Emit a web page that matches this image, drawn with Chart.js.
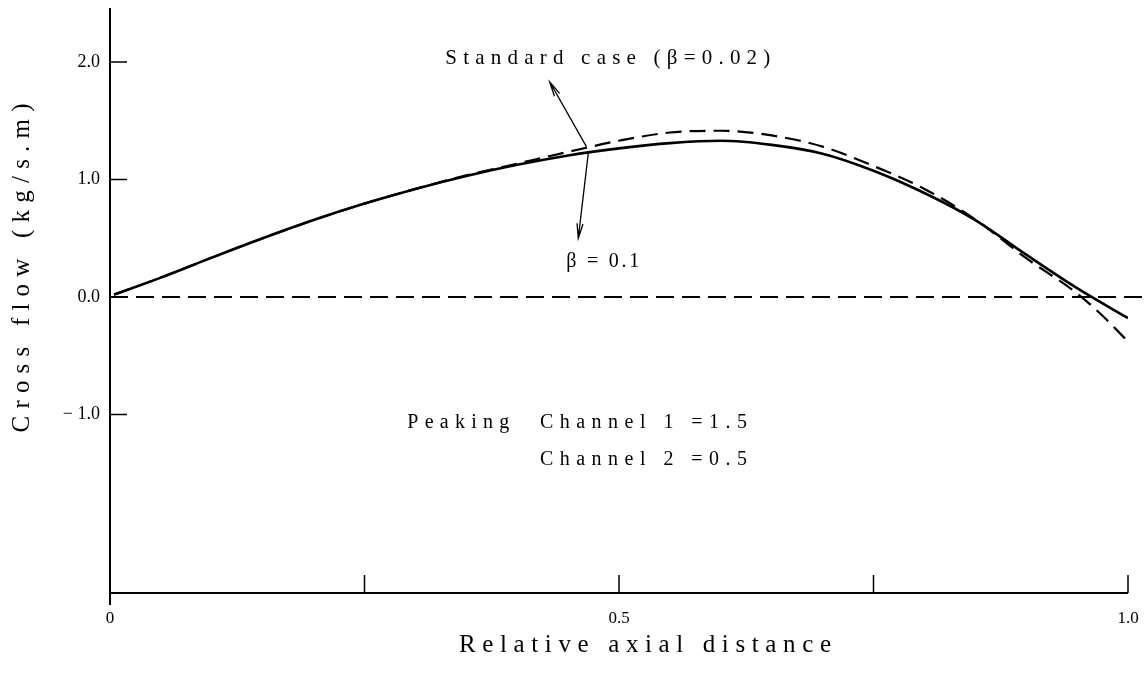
<!DOCTYPE html>
<html>
<head>
<meta charset="utf-8">
<script src="https://cdn.jsdelivr.net/npm/chart.js@4.4.1/dist/chart.umd.min.js"></script>
<style>
  html, body { margin: 0; padding: 0; background: #fff; }
  #wrap { width: 1146px; height: 679px; }
</style>
</head>
<body>
<div id="wrap"><canvas id="c" width="1146" height="679"></canvas></div>
<script>
// Cross flow along the channel, beta = 0.1 (solid)
const axialBeta01 = [0.004, 0.05, 0.10, 0.15, 0.20, 0.25, 0.30, 0.35, 0.40, 0.45, 0.50, 0.55, 0.60, 0.65, 0.70, 0.75, 0.80, 0.85, 0.90, 0.95, 1.0];
const flowBeta01  = [0.02, 0.165, 0.335, 0.50, 0.655, 0.795, 0.92, 1.03, 1.125, 1.205, 1.265, 1.31, 1.33, 1.295, 1.22, 1.075, 0.885, 0.655, 0.36, 0.075, -0.18];

// Cross flow along the channel, standard case beta = 0.02 (dashed)
const axialStd = [0.004, 0.05, 0.10, 0.15, 0.20, 0.25, 0.30, 0.35, 0.40, 0.45, 0.50, 0.55, 0.60, 0.65, 0.70, 0.75, 0.80, 0.85, 0.90, 0.95, 0.975, 1.0];
const flowStd  = [0.02, 0.165, 0.335, 0.50, 0.655, 0.795, 0.92, 1.035, 1.135, 1.235, 1.33, 1.40, 1.415, 1.375, 1.28, 1.115, 0.92, 0.66, 0.33, 0.03, -0.16, -0.38];

// Zero reference line
const zeroLineX = [0, 1.035];
const zeroLineY = [0, 0];

// Axis ticks and labels
const xTickValues = [0, 0.5, 1.0];
const xTickLabels = ["0", "0.5", "1.0"];
const xTickMarks  = [0.25, 0.5, 0.75, 1.0];
const yTickValues = [-1, 0, 1, 2];
const yTickLabels = ["\u2212 1.0", "0.0", "1.0", "2.0"];

// Annotation text and arrows (data units)
const notes = {
  standard: { text: "Standard case (\u03B2=0.02)", x: 0.489, y: 2.026, width: 325 },
  beta:     { text: "\u03B2 = 0.1", x: 0.484, y: 0.298, width: 73 },
  peaking:  { text: "Peaking", x: 0.292, y: -1.072, width: 102 },
  ch1:      { text: "Channel 1 =1.5", x: 0.4224, y: -1.072, width: 207 },
  ch2:      { text: "Channel 2 =0.5", x: 0.4224, y: -1.387, width: 207 }
};
const arrows = [
  { from: [0.468, 1.28], to: [0.432, 1.83] },
  { from: [0.470, 1.237], to: [0.460, 0.50] }
];

const toPoints = (xs, ys) => xs.map((x, i) => ({ x: x, y: ys[i] }));
const SERIF = '"Liberation Serif", "DejaVu Serif", serif';

function spacedText(ctx, str, x, y, font, width, align) {
  ctx.font = font;
  const chars = Array.from(str);
  const widths = chars.map(c => ctx.measureText(c).width);
  const natural = widths.reduce((a, b) => a + b, 0);
  const gap = chars.length > 1 ? (width - natural) / (chars.length - 1) : 0;
  let cx = align === 'center' ? x - width / 2 : x;
  ctx.textAlign = 'left';
  ctx.textBaseline = 'middle';
  chars.forEach((c, i) => { ctx.fillText(c, cx, y); cx += widths[i] + gap; });
}

function arrow(ctx, x0, y0, x1, y1) {
  ctx.beginPath();
  ctx.moveTo(x0, y0);
  ctx.lineTo(x1, y1);
  const a = Math.atan2(y1 - y0, x1 - x0);
  const len = 15, spread = 0.2;
  ctx.moveTo(x1 - len * Math.cos(a - spread), y1 - len * Math.sin(a - spread));
  ctx.lineTo(x1, y1);
  ctx.lineTo(x1 - len * Math.cos(a + spread), y1 - len * Math.sin(a + spread));
  ctx.stroke();
}

const frame = {
  id: 'frame',
  beforeDatasetsDraw(chart) {
    const { ctx, chartArea: area, scales: { x, y } } = chart;
    ctx.save();
    ctx.strokeStyle = '#000';
    ctx.lineWidth = 2;
    ctx.beginPath();
    ctx.moveTo(area.left, area.top);
    ctx.lineTo(area.left, area.bottom + 12);
    ctx.moveTo(area.left, area.bottom);
    ctx.lineTo(area.right, area.bottom);
    ctx.stroke();
    ctx.lineWidth = 1.5;
    ctx.beginPath();
    yTickValues.forEach(v => {
      const py = y.getPixelForValue(v);
      ctx.moveTo(area.left, py);
      ctx.lineTo(area.left + 17, py);
    });
    xTickMarks.forEach(v => {
      const pxv = x.getPixelForValue(v);
      ctx.moveTo(pxv, area.bottom);
      ctx.lineTo(pxv, area.bottom - 18);
    });
    ctx.stroke();
    ctx.restore();
  },
  afterDatasetsDraw(chart) {
    const { ctx, scales: { x, y } } = chart;
    ctx.save();
    ctx.fillStyle = '#000';
    ctx.strokeStyle = '#000';
    ctx.lineWidth = 1.3;
    arrows.forEach(a => arrow(ctx,
      x.getPixelForValue(a.from[0]), y.getPixelForValue(a.from[1]),
      x.getPixelForValue(a.to[0]), y.getPixelForValue(a.to[1])));
    const n = notes;
    spacedText(ctx, n.standard.text, x.getPixelForValue(n.standard.x), y.getPixelForValue(n.standard.y), '21px ' + SERIF, n.standard.width, 'center');
    spacedText(ctx, n.beta.text, x.getPixelForValue(n.beta.x), y.getPixelForValue(n.beta.y), '20px ' + SERIF, n.beta.width, 'center');
    ['peaking', 'ch1', 'ch2'].forEach(k => {
      spacedText(ctx, n[k].text, x.getPixelForValue(n[k].x), y.getPixelForValue(n[k].y), '20px ' + SERIF, n[k].width, 'left');
    });
    // axis titles
    spacedText(ctx, 'Relative axial distance', 645, 645, '25px ' + SERIF, 372, 'center');
    ctx.translate(22, 268);
    ctx.rotate(-Math.PI / 2);
    spacedText(ctx, 'Cross flow (kg/s.m)', 0, 0, '25px ' + SERIF, 329, 'center');
    ctx.restore();
  }
};

new Chart(document.getElementById('c'), {
  type: 'scatter',
  data: {
    datasets: [
      {
        label: '\u03B2 = 0.1',
        data: toPoints(axialBeta01, flowBeta01),
        showLine: true, borderColor: '#000', borderWidth: 2.6,
        pointRadius: 0, cubicInterpolationMode: 'monotone', order: 0
      },
      {
        label: 'Standard case (\u03B2=0.02)',
        data: toPoints(axialStd, flowStd),
        showLine: true, borderColor: '#000', borderWidth: 2.2, borderDash: [16, 8],
        pointRadius: 0, cubicInterpolationMode: 'monotone', order: 1
      },
      {
        label: 'zero',
        data: toPoints(zeroLineX, zeroLineY),
        showLine: true, borderColor: '#000', borderWidth: 2, borderDash: [18, 8],
        pointRadius: 0, clip: false, order: 2
      }
    ]
  },
  options: {
    responsive: false,
    animation: false,
    devicePixelRatio: 1,
    layout: { padding: { top: 8, right: 18, left: 0, bottom: 0 } },
    plugins: { legend: { display: false }, tooltip: { enabled: false } },
    scales: {
      x: {
        type: 'linear', min: 0, max: 1.0,
        grid: { display: false, drawTicks: false },
        border: { display: false },
        afterBuildTicks: s => { s.ticks = xTickValues.map(v => ({ value: v })); },
        afterFit: s => { s.height = 86; s.paddingLeft = 0; s.paddingRight = 0; },
        ticks: {
          color: '#000', padding: 15, maxRotation: 0,
          font: { family: SERIF, size: 17 },
          callback: v => xTickLabels[xTickValues.indexOf(v)]
        }
      },
      y: {
        type: 'linear', min: -2.52, max: 2.46,
        grid: { display: false, drawTicks: false },
        border: { display: false },
        afterBuildTicks: s => { s.ticks = yTickValues.map(v => ({ value: v })); },
        afterFit: s => { s.width = 110; s.paddingTop = 0; s.paddingBottom = 0; },
        ticks: {
          color: '#000', padding: 10,
          font: { family: SERIF, size: 18 },
          callback: v => yTickLabels[yTickValues.indexOf(v)]
        }
      }
    }
  },
  plugins: [frame]
});
</script>
</body>
</html>
